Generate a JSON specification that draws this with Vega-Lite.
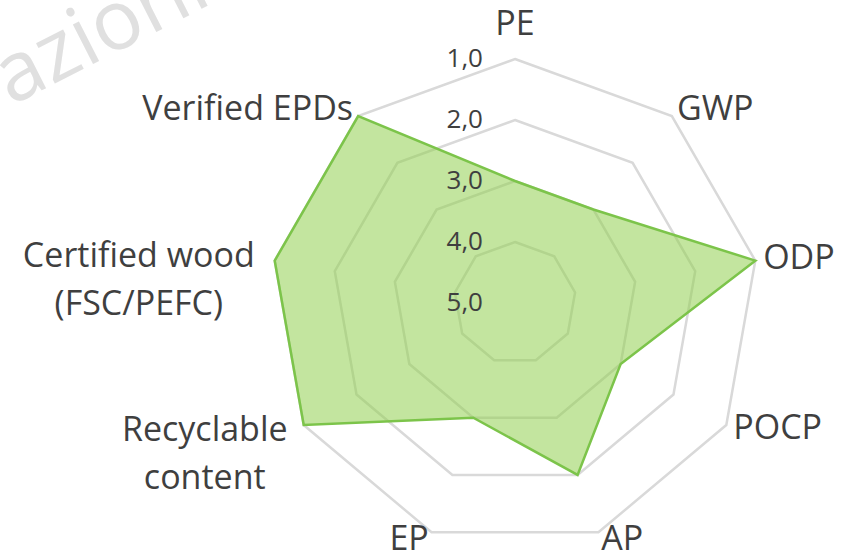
{
  "$schema": "https://vega.github.io/schema/vega-lite/v6.json",
  "width": 858,
  "height": 557,
  "padding": 0,
  "autosize": {"type": "none"},
  "background": "white",
  "config": {
    "view": {"stroke": null},
    "text": {"font": "Open Sans", "color": "#3f3f3f"}
  },
  "datasets": {
    "scores": [
      {"axis": "PE", "score": 3},
      {"axis": "GWP", "score": 3},
      {"axis": "ODP", "score": 1},
      {"axis": "POCP", "score": 3},
      {"axis": "AP", "score": 2},
      {"axis": "EP", "score": 3},
      {"axis": "Recyclable\ncontent", "score": 1},
      {"axis": "Certified wood\n(FSC/PEFC)", "score": 1},
      {"axis": "Verified EPDs", "score": 1}
    ],
    "grid": [
      {"level": 1, "tick": "1,0", "spokes": [0, 1, 2, 3, 4, 5, 6, 7, 8]},
      {"level": 2, "tick": "2,0", "spokes": [0, 1, 2, 3, 4, 5, 6, 7, 8]},
      {"level": 3, "tick": "3,0", "spokes": [0, 1, 2, 3, 4, 5, 6, 7, 8]},
      {"level": 4, "tick": "4,0", "spokes": [0, 1, 2, 3, 4, 5, 6, 7, 8]},
      {"level": 5, "tick": "5,0", "spokes": []}
    ]
  },
  "encoding": {
    "x": {"field": "px", "type": "quantitative", "axis": null,
          "scale": {"domain": [-8.4426, 5.623], "nice": false, "zero": false}},
    "y": {"field": "py", "type": "quantitative", "axis": null,
          "scale": {"domain": [-4.1639, 4.9672], "nice": false, "zero": false}}
  },
  "layer": [
    {
      "data": {"values": [{"word": "azioni"}]},
      "transform": [
        {"calculate": "-8.262", "as": "px"},
        {"calculate": "3.23", "as": "py"}
      ],
      "mark": {"type": "text", "font": "Open Sans", "fontSize": 83, "fill": "#e0e0e0",
               "angle": -27, "align": "left", "baseline": "alphabetic"},
      "encoding": {
        "text": {"field": "word"}
      }
    },
    {
      "data": {"name": "grid"},
      "transform": [
        {"flatten": ["spokes"], "as": ["spoke"]},
        {"calculate": "datum.spoke * 2 * PI / 9", "as": "a"},
        {"calculate": "(5 - datum.level) * sin(datum.a)", "as": "px"},
        {"calculate": "(5 - datum.level) * cos(datum.a)", "as": "py"}
      ],
      "mark": {"type": "line", "interpolate": "linear-closed", "color": "#d9d9d9", "strokeWidth": 2.5},
      "encoding": {
        "detail": {"field": "level", "type": "nominal"},
        "order": {"field": "spoke", "type": "quantitative"}
      }
    },
    {
      "data": {"name": "scores"},
      "transform": [
        {"window": [{"op": "row_number", "as": "k"}]},
        {"calculate": "(datum.k - 1) * 2 * PI / 9", "as": "a"},
        {"calculate": "(5 - datum.score) * sin(datum.a)", "as": "px"},
        {"calculate": "(5 - datum.score) * cos(datum.a)", "as": "py"}
      ],
      "mark": {"type": "line", "interpolate": "linear-closed", "filled": true,
               "fill": "#92d050", "fillOpacity": 0.55, "stroke": "#7cc44a", "strokeWidth": 2.5},
      "encoding": {
        "order": {"field": "k", "type": "quantitative"}
      }
    },
    {
      "data": {"name": "grid"},
      "transform": [
        {"calculate": "0", "as": "px"},
        {"calculate": "5 - datum.level", "as": "py"}
      ],
      "mark": {"type": "text", "fontSize": 26, "align": "right", "baseline": "middle", "dx": -32},
      "encoding": {"text": {"field": "tick"}}
    },
    {
      "data": {"name": "scores"},
      "transform": [
        {"window": [{"op": "row_number", "as": "k"}]},
        {"calculate": "(datum.k - 1) * 2 * PI / 9", "as": "a"},
        {"calculate": "4 + (cos(datum.a) > 0.9 ? 17 : 8) / 61", "as": "lr"},
        {"calculate": "datum.lr * sin(datum.a)", "as": "px"},
        {"calculate": "datum.lr * cos(datum.a)", "as": "py"}
      ],
      "layer": [
        {
          "transform": [{"filter": "sin(datum.a) > 0.3"}],
          "mark": {"type": "text", "fontSize": 34, "align": "left", "baseline": "middle"},
          "encoding": {"text": {"field": "axis"}}
        },
        {
          "transform": [{"filter": "sin(datum.a) < -0.3 && indexof(datum.axis, '\\n') < 0"}],
          "mark": {"type": "text", "fontSize": 34, "align": "right", "baseline": "middle"},
          "encoding": {"text": {"field": "axis"}}
        },
        {
          "transform": [{"filter": "abs(sin(datum.a)) <= 0.3"}],
          "mark": {"type": "text", "fontSize": 34, "align": "center", "baseline": "bottom"},
          "encoding": {"text": {"field": "axis"}}
        },
        {
          "transform": [{"filter": "indexof(datum.axis, 'Certified') == 0"}],
          "mark": {"type": "text", "fontSize": 34, "align": "center", "baseline": "middle",
                   "lineBreak": "\n", "lineHeight": 48, "dx": -128, "dy": -2},
          "encoding": {"text": {"field": "axis"}}
        },
        {
          "transform": [{"filter": "indexof(datum.axis, 'Recyclable') == 0"}],
          "mark": {"type": "text", "fontSize": 34, "align": "center", "baseline": "middle",
                   "lineBreak": "\n", "lineHeight": 48, "dx": -92, "dy": 2},
          "encoding": {"text": {"field": "axis"}}
        }
      ]
    }
  ]
}
